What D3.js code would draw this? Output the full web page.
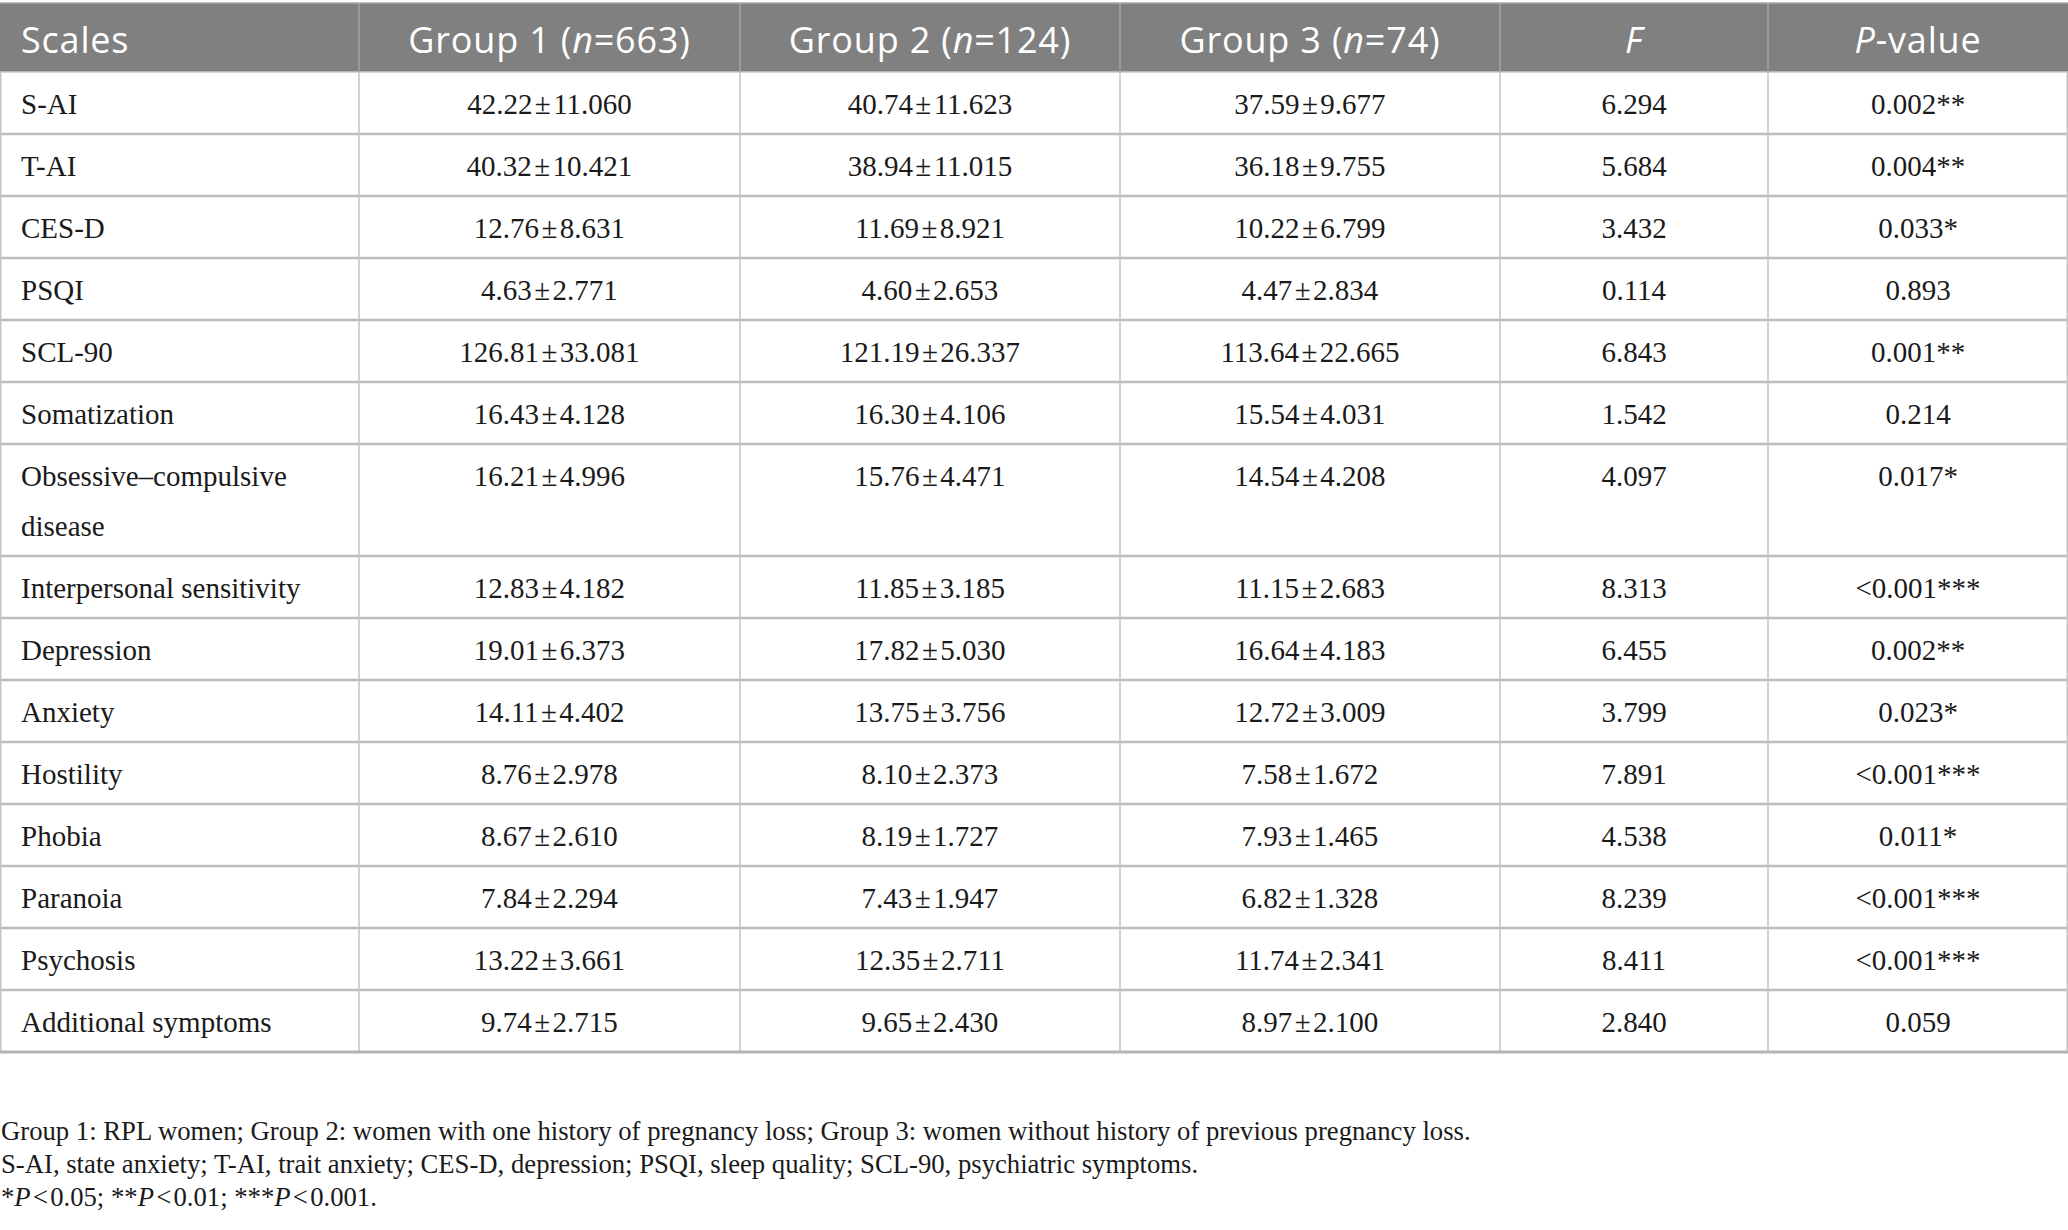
<!DOCTYPE html>
<html lang="en">
<head>
  <meta charset="UTF-8">
  <title>Scales by group</title>
  <script src="https://d3js.org/d3.v7.min.js"></script>
  <style>
    body {
      margin: 0;
      background: #fff;
    }
    svg { display: block; }
    .head { font-family: "Open Sans", "Noto Sans", sans-serif; font-size: 36px; font-weight: 400; fill: #fff; letter-spacing: 0.8px; }
    .cell { font-family: "Liberation Serif", "DejaVu Serif", serif; font-size: 29px; fill: #1a1a1a; }
    .note { font-family: "Liberation Serif", "DejaVu Serif", serif; font-size: 26.7px; fill: #1a1a1a; }
  </style>
</head>
<body>
  <div id="chart"></div>

  <script>
    const headers = ["Scales", "Group 1 (_n_=663)", "Group 2 (_n_=124)", "Group 3 (_n_=74)", "_F_", "_P_-value"];

    const scales = ["S-AI", "T-AI", "CES-D", "PSQI", "SCL-90", "Somatization",
      "Obsessive–compulsive disease", "Interpersonal sensitivity", "Depression", "Anxiety",
      "Hostility", "Phobia", "Paranoia", "Psychosis", "Additional symptoms"];

    const group1 = ["42.22±11.060", "40.32±10.421", "12.76±8.631", "4.63±2.771", "126.81±33.081",
      "16.43±4.128", "16.21±4.996", "12.83±4.182", "19.01±6.373", "14.11±4.402",
      "8.76±2.978", "8.67±2.610", "7.84±2.294", "13.22±3.661", "9.74±2.715"];

    const group2 = ["40.74±11.623", "38.94±11.015", "11.69±8.921", "4.60±2.653", "121.19±26.337",
      "16.30±4.106", "15.76±4.471", "11.85±3.185", "17.82±5.030", "13.75±3.756",
      "8.10±2.373", "8.19±1.727", "7.43±1.947", "12.35±2.711", "9.65±2.430"];

    const group3 = ["37.59±9.677", "36.18±9.755", "10.22±6.799", "4.47±2.834", "113.64±22.665",
      "15.54±4.031", "14.54±4.208", "11.15±2.683", "16.64±4.183", "12.72±3.009",
      "7.58±1.672", "7.93±1.465", "6.82±1.328", "11.74±2.341", "8.97±2.100"];

    const fValues = ["6.294", "5.684", "3.432", "0.114", "6.843", "1.542", "4.097", "8.313",
      "6.455", "3.799", "7.891", "4.538", "8.239", "8.411", "2.840"];

    const pValues = ["0.002**", "0.004**", "0.033*", "0.893", "0.001**", "0.214", "0.017*",
      "<0.001***", "0.002**", "0.023*", "<0.001***", "0.011*", "<0.001***", "<0.001***", "0.059"];

    const notes = [
      "Group 1: RPL women; Group 2: women with one history of pregnancy loss; Group 3: women without history of previous pregnancy loss.",
      "S-AI, state anxiety; T-AI, trait anxiety; CES-D, depression; PSQI, sleep quality; SCL-90, psychiatric symptoms.",
      "*_P_\u200a<\u200a0.05; **_P_\u200a<\u200a0.01; ***_P_\u200a<\u200a0.001."
    ];

    // layout
    const width = 2068, height = 1230;
    const colWidths = [359, 381, 380, 380, 268, 300];
    const headTop = 3, headBottom = 72;
    const rowH = 62, lineH = 50, padLeft = 21;

    const edges = [0, ...d3.cumsum(colWidths)];
    const xMid = i => (edges[i] + edges[i + 1]) / 2;

    const svg = d3.select("#chart")
      .append("svg")
      .attr("width", width)
      .attr("height", height);

    // text with _italic_ parts
    function rich(sel, str) {
      str.split("_").forEach((part, k) => {
        if (!part) return;
        sel.append("tspan")
          .style("font-style", k % 2 ? "italic" : null)
          .text(part);
      });
    }

    // header band
    svg.append("rect")
      .attr("x", 0).attr("y", headTop)
      .attr("width", width).attr("height", headBottom - headTop)
      .attr("fill", "#7f807f");

    svg.selectAll("text.head")
      .data(headers)
      .join("text")
      .attr("class", "head")
      .attr("x", (d, i) => i === 0 ? padLeft : xMid(i))
      .attr("y", headTop + 50)
      .attr("text-anchor", (d, i) => i === 0 ? "start" : "middle")
      .each(function(d) { rich(d3.select(this), d); });

    // rows: wrap the label column first, then stack rows
    const cellCols = [group1, group2, group3, fValues, pValues];
    const rows = scales.map((s, i) => ({
      label: s,
      cells: cellCols.map(c => c[i].replace("±", "\u200a±\u200a"))
    }));

    const maxLabel = colWidths[0] - padLeft - 16;
    const labels = svg.selectAll("text.label")
      .data(rows)
      .join("text")
      .attr("class", "cell label")
      .attr("x", padLeft);

    labels.each(function(d) {
      const t = d3.select(this);
      const words = d.label.split(" ");
      let line = [], lines = [];
      const probe = t.append("tspan");
      words.forEach(w => {
        probe.text(line.concat(w).join(" "));
        if (probe.node().getComputedTextLength() > maxLabel && line.length) {
          lines.push(line.join(" "));
          line = [w];
        } else {
          line.push(w);
        }
      });
      lines.push(line.join(" "));
      probe.remove();
      d.lines = lines;
      d.h = rowH + lineH * (lines.length - 1);
    });

    const tops = [headBottom, ...d3.cumsum(rows, d => d.h).map(v => v + headBottom)];
    rows.forEach((d, i) => { d.top = tops[i]; });
    const tableBottom = tops[tops.length - 1];

    labels.each(function(d) {
      d3.select(this).selectAll("tspan")
        .data(d.lines)
        .join("tspan")
        .attr("x", padLeft)
        .attr("y", (l, k) => d.top + 42 + k * lineH)
        .text(l => l);
    });

    rows.forEach(d => {
      svg.selectAll(null)
        .data(d.cells)
        .join("text")
        .attr("class", "cell")
        .attr("x", (c, j) => xMid(j + 1))
        .attr("y", d.top + 42)
        .attr("text-anchor", "middle")
        .text(c => c);
    });

    // grid lines
    svg.selectAll("line.hrow")
      .data(tops.slice(1, -1))
      .join("line")
      .attr("x1", 0).attr("x2", width)
      .attr("y1", d => d).attr("y2", d => d)
      .attr("stroke", "#bcbcbc")
      .attr("stroke-width", 2.5);

    svg.append("line")
      .attr("x1", 0).attr("x2", width)
      .attr("y1", headBottom).attr("y2", headBottom)
      .attr("stroke", "#c9c9c9")
      .attr("stroke-width", 1.5);

    svg.selectAll("line.vhead")
      .data(edges.slice(1, -1))
      .join("line")
      .attr("x1", d => d).attr("x2", d => d)
      .attr("y1", headTop).attr("y2", headBottom)
      .attr("stroke", "#a3a4a3")
      .attr("stroke-width", 1.5);

    svg.selectAll("line.vbody")
      .data(edges)
      .join("line")
      .attr("x1", d => Math.min(Math.max(d, 0.75), width - 0.75))
      .attr("x2", d => Math.min(Math.max(d, 0.75), width - 0.75))
      .attr("y1", headBottom).attr("y2", tableBottom)
      .attr("stroke", "#c4c4c4")
      .attr("stroke-width", 1.5);

    svg.append("line")
      .attr("x1", 0).attr("x2", width)
      .attr("y1", tableBottom).attr("y2", tableBottom)
      .attr("stroke", "#b4b4b4")
      .attr("stroke-width", 3);

    svg.append("line")
      .attr("x1", 0).attr("x2", width)
      .attr("y1", headTop).attr("y2", headTop)
      .attr("stroke", "#a8a8a8")
      .attr("stroke-width", 1.5);

    // footnotes
    svg.selectAll("text.note")
      .data(notes)
      .join("text")
      .attr("class", "note")
      .attr("x", 1)
      .attr("y", (d, i) => tableBottom + 88 + i * 33)
      .each(function(d) { rich(d3.select(this), d); });
  </script>
</body>
</html>
